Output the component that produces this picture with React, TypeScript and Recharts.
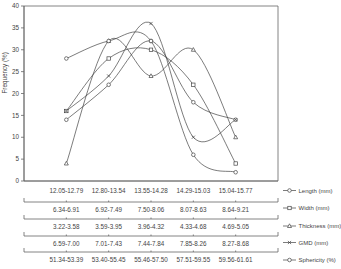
import React from 'react';
import { LineChart, Line, XAxis, YAxis, ReferenceArea } from 'recharts';

// class intervals for each property (one row of labels under the chart each)
const lengthBins = ['12.05-12.79', '12.80-13.54', '13.55-14.28', '14.29-15.03', '15.04-15.77'];
const widthBins = ['6.34-6.91', '6.92-7.49', '7.50-8.06', '8.07-8.63', '8.64-9.21'];
const thicknessBins = ['3.22-3.58', '3.59-3.95', '3.96-4.32', '4.33-4.68', '4.69-5.05'];
const gmdBins = ['6.59-7.00', '7.01-7.43', '7.44-7.84', '7.85-8.26', '8.27-8.68'];
const sphericityBins = ['51.34-53.39', '53.40-55.45', '55.46-57.50', '57.51-59.55', '59.56-61.61'];

// frequency (%) per class
const lengthFreq = [14, 22, 32, 18, 14];
const widthFreq = [16, 28, 30, 22, 4];
const thicknessFreq = [4, 32, 24, 30, 10];
const gmdFreq = [16, 24, 36, 10, 14];
const sphericityFreq = [28, 32, 32, 6, 2];

const yTicks = [0, 5, 10, 15, 20, 25, 30, 35, 40];

const data = lengthBins.map((_, i) => ({
  pos: i + 1,
  length: lengthFreq[i],
  width: widthFreq[i],
  thickness: thicknessFreq[i],
  gmd: gmdFreq[i],
  sphericity: sphericityFreq[i],
}));

const FONT = '"Liberation Sans", Arial, sans-serif';
const INK = '#444';
const AXIS = '#666';

// Excel-like smoothed line (Catmull-Rom bezier)
const smoothCurve = (context: any) => {
  let pts: number[][] = [];
  return {
    areaStart() {},
    areaEnd() {},
    lineStart() {
      pts = [];
    },
    lineEnd() {
      const n = pts.length;
      if (!n) return;
      context.moveTo(pts[0][0], pts[0][1]);
      for (let i = 0; i < n - 1; i++) {
        const p0 = pts[i - 1] || pts[i];
        const p1 = pts[i];
        const p2 = pts[i + 1];
        const p3 = pts[i + 2] || p2;
        context.bezierCurveTo(
          p1[0] + (p2[0] - p0[0]) / 6, p1[1] + (p2[1] - p0[1]) / 6,
          p2[0] - (p3[0] - p1[0]) / 6, p2[1] - (p3[1] - p1[1]) / 6,
          p2[0], p2[1]
        );
      }
    },
    point(x: number, y: number) {
      pts.push([+x, +y]);
    },
  };
};

const Marker = ({ shape, cx, cy }: { shape: string; cx: number; cy: number }) => {
  const s = { stroke: INK, strokeWidth: 0.7, fill: '#fff' };
  if (shape === 'square') return <rect x={cx - 1.7} y={cy - 1.7} width={3.4} height={3.4} {...s} />;
  if (shape === 'triangle')
    return <polygon points={`${cx},${cy - 2.2} ${cx + 2},${cy + 1.5} ${cx - 2},${cy + 1.5}`} {...s} />;
  if (shape === 'cross')
    return (
      <g stroke={INK} strokeWidth={0.7}>
        <line x1={cx - 1.6} y1={cy - 1.6} x2={cx + 1.6} y2={cy + 1.6} />
        <line x1={cx - 1.6} y1={cy + 1.6} x2={cx + 1.6} y2={cy - 1.6} />
      </g>
    );
  return <circle cx={cx} cy={cy} r={1.8} {...s} />;
};

const dotOf = (shape: string) => (props: any) => (
  <Marker key={`${shape}-${props.index}`} shape={shape} cx={props.cx} cy={props.cy} />
);

const rowTick = (labels: string[], textDy: number, caps: boolean) => (props: any) => {
  const { x, y, payload } = props;
  const v = payload.value;
  if (v === 0 || v === 6) {
    return caps ? <line x1={x} x2={x} y1={y} y2={y - 4} stroke={AXIS} strokeWidth={0.8} /> : <g />;
  }
  return (
    <g>
      {caps && <line x1={x} x2={x} y1={y} y2={y - 1.5} stroke={AXIS} strokeWidth={0.8} />}
      <text x={x} y={y + textDy} textAnchor="middle" dominantBaseline="central" fontSize={6.3} fontFamily={FONT} fill={INK}>
        {labels[v - 1]}
      </text>
    </g>
  );
};

// ids sorted alphabetically = stacking order under the plot
const rows = [
  { id: 'a_len', labels: lengthBins, height: 21, dy: 9.5, caps: false },
  { id: 'b_wid', labels: widthBins, height: 17, dy: 7.5, caps: true },
  { id: 'c_thk', labels: thicknessBins, height: 17, dy: 7.5, caps: true },
  { id: 'd_gmd', labels: gmdBins, height: 16, dy: 7.5, caps: true },
  { id: 'e_sph', labels: sphericityBins, height: 17, dy: 7.5, caps: true },
];

const legendItems = [
  { name: 'Length (mm)', shape: 'circle', y: 190.5 },
  { name: 'Width (mm)', shape: 'square', y: 208 },
  { name: 'Thickness (mm)', shape: 'triangle', y: 226 },
  { name: 'GMD (mm)', shape: 'cross', y: 242.5 },
  { name: 'Sphericity (%)', shape: 'circle', y: 260 },
];

const series = [
  { key: 'length', shape: 'circle' },
  { key: 'width', shape: 'square' },
  { key: 'thickness', shape: 'triangle' },
  { key: 'gmd', shape: 'cross' },
  { key: 'sphericity', shape: 'circle' },
];

export default function App() {
  return (
    <div style={{ position: 'absolute', left: 0, top: 0, width: 341, height: 269, background: '#fff' }}>
      <LineChart width={341} height={269} data={data} margin={{ top: 6, right: 63, bottom: 0, left: 0 }}>
        {rows.map((r) => (
          <XAxis
            key={r.id}
            xAxisId={r.id}
            dataKey="pos"
            type="number"
            domain={[0, 6]}
            ticks={r.caps ? [0, 1, 2, 3, 4, 5, 6] : [1, 2, 3, 4, 5]}
            height={r.height}
            tickSize={0}
            tickMargin={0}
            tickLine={false}
            axisLine={{ stroke: AXIS, strokeWidth: 0.8 }}
            tick={rowTick(r.labels, r.dy, r.caps)}
            interval={0}
            allowDataOverflow
          />
        ))}
        <YAxis
          type="number"
          domain={[0, 40]}
          ticks={yTicks}
          width={24}
          interval={0}
          tickSize={3}
          tickMargin={2}
          axisLine={{ stroke: AXIS, strokeWidth: 0.8 }}
          tickLine={{ stroke: AXIS, strokeWidth: 0.8 }}
          tick={{ fontSize: 6.3, fontFamily: FONT, fill: INK }}
          label={{ value: 'Frequency (%)', angle: -90, position: 'insideLeft', offset: 5, fontSize: 6.3, fontFamily: FONT, fill: INK }}
        />
        <ReferenceArea xAxisId="a_len" x1={0} x2={6} y1={0} y2={40} fill="none" stroke={AXIS} strokeWidth={0.8} ifOverflow="visible" />
        {series.map((s) => (
          <Line
            key={s.key}
            xAxisId="a_len"
            dataKey={s.key}
            type={smoothCurve as any}
            stroke={INK}
            strokeWidth={0.7}
            dot={dotOf(s.shape)}
            activeDot={false}
            isAnimationActive={false}
          />
        ))}
      </LineChart>
      <svg width={341} height={269} style={{ position: 'absolute', left: 0, top: 0, pointerEvents: 'none' }}>
        {legendItems.map((it) => (
          <g key={it.name}>
            <line x1={283} x2={296} y1={it.y} y2={it.y} stroke={INK} strokeWidth={0.7} />
            <Marker shape={it.shape} cx={289.5} cy={it.y} />
            <text x={298.5} y={it.y} dominantBaseline="central" fontSize={6} fontFamily={FONT} fill={INK}>
              {it.name}
            </text>
          </g>
        ))}
      </svg>
    </div>
  );
}
